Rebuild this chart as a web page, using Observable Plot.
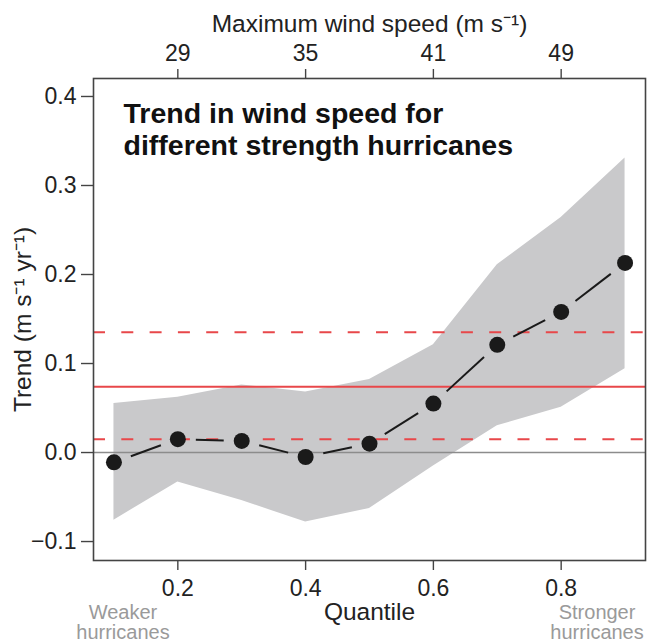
<!DOCTYPE html>
<html>
<head>
<meta charset="utf-8">
<script src="https://cdn.jsdelivr.net/npm/d3@7"></script>
<script src="https://cdn.jsdelivr.net/npm/@observablehq/plot@0.6"></script>
<style>
  html, body { margin: 0; padding: 0; background: #fff; }
  #chart { width: 647px; height: 642px; overflow: hidden; }
</style>
</head>
<body>
<div id="chart"></div>
<script>
// Quantiles of hurricane strength
const quantiles = [0.1, 0.2, 0.3, 0.4, 0.5, 0.6, 0.7, 0.8, 0.9];
// Trend in wind speed (m s-1 yr-1)
const trend = [-0.011, 0.015, 0.013, -0.005, 0.010, 0.055, 0.121, 0.158, 0.213];
// Confidence band
const upper = [0.055, 0.062, 0.076, 0.068, 0.082, 0.121, 0.211, 0.264, 0.331];
const lower = [-0.076, -0.033, -0.054, -0.078, -0.063, -0.015, 0.030, 0.051, 0.094];
// Reference lines: expected trend and its bounds
const refTrend = [0.074];
const refBounds = [0.015, 0.135];
// Axis ticks
const yTicks = [-0.1, 0.0, 0.1, 0.2, 0.3, 0.4];
const xTicks = [0.2, 0.4, 0.6, 0.8];
const windSpeedLabels = ["29", "35", "41", "49"];
// Annotations
const weakLabel = [{q: 0.1, text: "Weaker\nhurricanes"}];
const strongLabel = [{q: 0.9, text: "Stronger\nhurricanes"}];

const data = quantiles.map((q, i) => ({q, trend: trend[i], upper: upper[i], lower: lower[i]}));
const segs = d3.pairs(data).map(([a, b]) => ({x1: a.q, y1: a.trend, x2: b.q, y2: b.trend}));

const font = "'Liberation Sans', Arial, Helvetica, sans-serif";

const plot = Plot.plot({
  width: 647,
  height: 642,
  marginLeft: 93,
  marginRight: 2,
  marginTop: 78,
  marginBottom: 82,
  style: {fontFamily: font, fontSize: "23px", color: "#222", background: "#fff"},
  x: {domain: [0.068, 0.932]},
  y: {domain: [-0.1213, 0.4202]},
  marks: [
    Plot.areaY(data, {x: "q", y1: "lower", y2: "upper", fill: "#c9c9cb", curve: "linear"}),
    Plot.ruleY([0], {stroke: "#8c8c8c", strokeWidth: 1.6}),
    Plot.ruleY(refTrend, {stroke: "#e8474a", strokeWidth: 2}),
    Plot.ruleY(refBounds, {stroke: "#e8474a", strokeWidth: 2, strokeDasharray: "12,16.3"}),
    Plot.arrow(segs, {x1: "x1", y1: "y1", x2: "x2", y2: "y2", inset: 18, headLength: 0,
      stroke: "#1a1a1a", strokeWidth: 2, strokeLinecap: "butt"}),
    Plot.dot(data, {x: "q", y: "trend", r: 8, fill: "#1a1a1a", stroke: "none"}),
    Plot.frame({stroke: "#444", strokeWidth: 1.6}),
    Plot.axisY({ticks: yTicks, tickFormat: d3.format(".1f"), tickSize: 12, tickPadding: 5,
      fontSize: 23, label: null, stroke: "#444", strokeWidth: 1.4}),
    Plot.axisX({ticks: xTicks, tickFormat: d3.format(".1f"), tickSize: 10, tickPadding: 9,
      fontSize: 23, label: null, anchor: "bottom", stroke: "#444", strokeWidth: 1.4}),
    Plot.axisX({ticks: xTicks, tickFormat: (d, i) => windSpeedLabels[i], tickSize: 10, tickPadding: 8,
      fontSize: 23, label: null, anchor: "top", stroke: "#444", strokeWidth: 1.4}),
    Plot.text(["Maximum wind speed (m s⁻¹)"], {frameAnchor: "top", dy: -64, fontSize: 24.5, fill: "#222"}),
    Plot.text(["Quantile"], {frameAnchor: "bottom", dy: 59, fontSize: 24.5, fill: "#222"}),
    Plot.text(["Trend (m s⁻¹ yr⁻¹)"], {frameAnchor: "left", textAnchor: "middle", dx: -70, rotate: -90,
      fontSize: 24.5, fill: "#222"}),
    Plot.text(["Trend in wind speed for\ndifferent strength hurricanes"], {
      frameAnchor: "top-left", dx: 30, dy: 22, textAnchor: "start", lineAnchor: "top",
      fontSize: 28.5, fontWeight: "bold", lineHeight: 1.12, fill: "#111"}),
    Plot.text(weakLabel, {x: "q", text: "text", frameAnchor: "bottom", dy: 44, dx: 9,
      fontSize: 20, fill: "#9a9a9a", lineAnchor: "top", lineHeight: 1.0}),
    Plot.text(strongLabel, {x: "q", text: "text", frameAnchor: "bottom", dy: 44, dx: -28,
      fontSize: 20, fill: "#9a9a9a", lineAnchor: "top", lineHeight: 1.0})
  ]
});
document.getElementById("chart").appendChild(plot);
</script>
</body>
</html>
